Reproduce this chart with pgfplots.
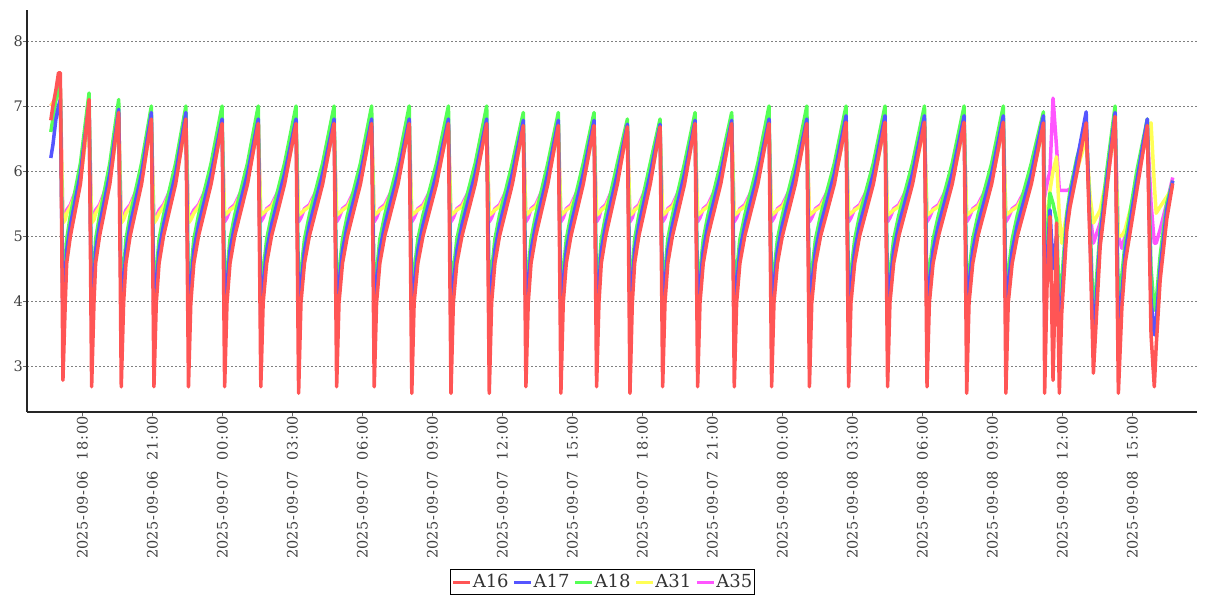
\documentclass[border=0pt]{standalone}
\usepackage{fontspec}
\setmainfont{DejaVu Serif}
\usepackage{pgfplots}
\usepackage{pgfplotstable}
\pgfplotsset{compat=1.18}

\definecolor{cA16}{HTML}{FF5555}
\definecolor{cA17}{HTML}{5555FF}
\definecolor{cA18}{HTML}{55FF55}
\definecolor{cA31}{HTML}{FFFF55}
\definecolor{cA35}{HTML}{FF55FF}

% t = hours since 2025-09-06 00:00
\pgfplotstableread{
t A16 A17 A18 A31 A35
16.65 6.78 6.20 6.60 7.00 7.00
16.74 7.00 6.40 6.80 7.05 7.05
16.87 7.25 6.80 7.10 7.10 7.10
16.98 7.51 7.00 7.28 7.20 7.20
17.06 7.51 7.10 7.28 7.20 7.20
17.17 2.78 3.70 4.05 5.20 5.22
17.27 3.97 4.25 4.45 5.25 5.30
17.33 4.58 4.78 4.95 5.35 5.40
17.49 5.00 5.17 5.32 5.45 5.48
17.92 5.80 5.96 6.12 5.85 5.90
18.29 7.10 7.05 7.20 6.90 6.90
18.40 2.68 3.70 4.05 5.20 5.22
18.50 3.97 4.25 4.45 5.25 5.30
18.57 4.58 4.78 4.95 5.35 5.40
18.74 5.00 5.17 5.32 5.45 5.48
19.18 5.80 5.96 6.12 5.85 5.90
19.56 6.90 6.95 7.10 6.80 6.80
19.67 2.68 3.70 4.05 5.20 5.22
19.77 3.97 4.25 4.45 5.25 5.30
19.87 4.58 4.78 4.95 5.35 5.40
20.05 5.00 5.17 5.32 5.45 5.48
20.54 5.80 5.96 6.12 5.85 5.90
20.96 6.80 6.90 7.00 6.75 6.75
21.07 2.68 3.70 4.05 5.20 5.22
21.17 3.97 4.25 4.45 5.25 5.30
21.29 4.58 4.78 4.95 5.35 5.40
21.48 5.00 5.17 5.32 5.45 5.48
22.00 5.80 5.96 6.12 5.85 5.90
22.44 6.80 6.90 7.00 6.75 6.75
22.55 2.68 3.70 4.05 5.20 5.22
22.65 3.97 4.25 4.45 5.25 5.30
22.78 4.58 4.78 4.95 5.35 5.40
22.98 5.00 5.17 5.32 5.45 5.48
23.52 5.80 5.96 6.12 5.85 5.90
23.99 6.73 6.80 7.00 6.70 6.70
24.10 2.68 3.70 4.05 5.32 5.22
24.20 3.97 4.25 4.45 5.35 5.28
24.33 4.58 4.78 4.95 5.40 5.42
24.53 5.00 5.17 5.32 5.45 5.48
25.08 5.80 5.96 6.12 5.85 5.90
25.54 6.73 6.80 7.00 6.70 6.70
25.65 2.68 3.70 4.05 5.32 5.22
25.75 3.97 4.25 4.45 5.35 5.28
25.90 4.58 4.78 4.95 5.40 5.42
26.11 5.00 5.17 5.32 5.45 5.48
26.67 5.80 5.96 6.12 5.85 5.90
27.16 6.73 6.80 7.00 6.70 6.70
27.27 2.58 3.70 4.05 5.32 5.22
27.37 3.97 4.25 4.45 5.35 5.28
27.52 4.58 4.78 4.95 5.40 5.42
27.73 5.00 5.17 5.32 5.45 5.48
28.30 5.80 5.96 6.12 5.85 5.90
28.79 6.73 6.80 7.00 6.70 6.70
28.90 2.68 3.70 4.05 5.32 5.22
29.00 3.97 4.25 4.45 5.35 5.28
29.15 4.58 4.78 4.95 5.40 5.42
29.36 5.00 5.17 5.32 5.45 5.48
29.92 5.80 5.96 6.12 5.85 5.90
30.40 6.73 6.80 7.00 6.70 6.70
30.51 2.68 3.70 4.05 5.32 5.22
30.61 3.97 4.25 4.45 5.35 5.28
30.75 4.58 4.78 4.95 5.40 5.42
30.96 5.00 5.17 5.32 5.45 5.48
31.53 5.80 5.96 6.12 5.85 5.90
32.01 6.73 6.80 7.00 6.70 6.70
32.12 2.58 3.70 4.05 5.32 5.22
32.22 3.97 4.25 4.45 5.35 5.28
32.38 4.58 4.78 4.95 5.40 5.42
32.60 5.00 5.17 5.32 5.45 5.48
33.18 5.80 5.96 6.12 5.85 5.90
33.69 6.73 6.80 7.00 6.70 6.70
33.80 2.58 3.70 4.05 5.32 5.22
33.90 3.97 4.25 4.45 5.35 5.28
34.05 4.58 4.78 4.95 5.40 5.42
34.27 5.00 5.17 5.32 5.45 5.48
34.84 5.80 5.96 6.12 5.85 5.90
35.33 6.73 6.80 7.00 6.70 6.70
35.44 2.58 3.70 4.05 5.32 5.22
35.54 3.97 4.25 4.45 5.35 5.28
35.68 4.58 4.78 4.95 5.40 5.42
35.88 5.00 5.17 5.32 5.45 5.48
36.43 5.80 5.96 6.12 5.85 5.90
36.90 6.70 6.78 6.90 6.65 6.65
37.01 2.68 3.70 4.05 5.32 5.22
37.11 3.97 4.25 4.45 5.35 5.28
37.23 4.58 4.78 4.95 5.40 5.42
37.43 5.00 5.17 5.32 5.45 5.48
37.95 5.80 5.96 6.12 5.85 5.90
38.40 6.70 6.78 6.90 6.65 6.65
38.51 2.58 3.70 4.05 5.32 5.22
38.61 3.97 4.25 4.45 5.35 5.28
38.74 4.58 4.78 4.95 5.40 5.42
38.94 5.00 5.17 5.32 5.45 5.48
39.47 5.80 5.96 6.12 5.85 5.90
39.93 6.70 6.78 6.90 6.65 6.65
40.04 2.68 3.70 4.05 5.32 5.22
40.14 3.97 4.25 4.45 5.35 5.28
40.24 4.58 4.78 4.95 5.40 5.42
40.43 5.00 5.17 5.32 5.45 5.48
40.93 5.80 5.96 6.12 5.85 5.90
41.36 6.68 6.72 6.80 6.65 6.65
41.47 2.58 3.70 4.05 5.32 5.22
41.57 3.97 4.25 4.45 5.35 5.28
41.67 4.58 4.78 4.95 5.40 5.42
41.85 5.00 5.17 5.32 5.45 5.48
42.34 5.80 5.96 6.12 5.85 5.90
42.76 6.68 6.72 6.80 6.65 6.65
42.87 2.68 3.70 4.05 5.32 5.22
42.97 3.97 4.25 4.45 5.35 5.28
43.09 4.58 4.78 4.95 5.40 5.42
43.29 5.00 5.17 5.32 5.45 5.48
43.81 5.80 5.96 6.12 5.85 5.90
44.26 6.73 6.78 6.90 6.70 6.70
44.37 2.68 3.70 4.05 5.32 5.22
44.47 3.97 4.25 4.45 5.35 5.28
44.61 4.58 4.78 4.95 5.40 5.42
44.81 5.00 5.17 5.32 5.45 5.48
45.36 5.80 5.96 6.12 5.85 5.90
45.83 6.73 6.78 6.90 6.70 6.70
45.94 2.68 3.70 4.05 5.32 5.22
46.04 3.97 4.25 4.45 5.35 5.28
46.18 4.58 4.78 4.95 5.40 5.42
46.39 5.00 5.17 5.32 5.45 5.48
46.95 5.80 5.96 6.12 5.85 5.90
47.43 6.73 6.80 7.00 6.70 6.70
47.54 2.68 3.70 4.05 5.32 5.22
47.64 3.97 4.25 4.45 5.35 5.28
47.79 4.58 4.78 4.95 5.40 5.42
48.00 5.00 5.17 5.32 5.45 5.48
48.56 5.80 5.96 6.12 5.85 5.90
49.05 6.73 6.80 7.00 6.70 6.70
49.16 2.68 3.70 4.05 5.32 5.22
49.26 3.97 4.25 4.45 5.35 5.28
49.42 4.58 4.78 4.95 5.40 5.42
49.64 5.00 5.17 5.32 5.45 5.48
50.23 5.80 5.96 6.12 5.85 5.90
50.73 6.75 6.85 7.00 6.70 6.70
50.84 2.68 3.70 4.05 5.32 5.22
50.94 3.97 4.25 4.45 5.35 5.28
51.10 4.58 4.78 4.95 5.40 5.42
51.31 5.00 5.17 5.32 5.45 5.48
51.90 5.80 5.96 6.12 5.85 5.90
52.40 6.75 6.85 7.00 6.70 6.70
52.51 2.68 3.70 4.05 5.32 5.22
52.61 3.97 4.25 4.45 5.35 5.28
52.77 4.58 4.78 4.95 5.40 5.42
52.99 5.00 5.17 5.32 5.45 5.48
53.58 5.80 5.96 6.12 5.85 5.90
54.09 6.75 6.85 7.00 6.70 6.70
54.20 2.68 3.70 4.05 5.32 5.22
54.30 3.97 4.25 4.45 5.35 5.28
54.46 4.58 4.78 4.95 5.40 5.42
54.69 5.00 5.17 5.32 5.45 5.48
55.28 5.80 5.96 6.12 5.85 5.90
55.79 6.75 6.85 7.00 6.70 6.70
55.90 2.58 3.70 4.05 5.32 5.22
56.00 3.97 4.25 4.45 5.35 5.28
56.16 4.58 4.78 4.95 5.40 5.42
56.38 5.00 5.17 5.32 5.45 5.48
56.97 5.80 5.96 6.12 5.85 5.90
57.47 6.75 6.85 7.00 6.70 6.70
57.58 2.58 3.70 4.05 5.32 5.22
57.68 3.97 4.25 4.45 5.35 5.28
57.85 4.58 4.78 4.95 5.40 5.42
58.07 5.00 5.17 5.32 5.45 5.48
58.67 5.80 5.96 6.12 5.85 5.90
59.19 6.74 6.85 6.91 6.70 6.80
59.24 2.58 3.60 4.00 5.30 5.60
59.34 4.20 4.60 5.00 5.25 5.80
59.47 5.30 5.40 5.66 5.70 6.00
59.60 2.78 4.50 5.50 6.00 7.12
59.75 5.20 5.00 5.25 6.22 6.37
59.87 2.58 3.30 3.90 5.30 5.70
59.97 3.80 4.00 4.30 4.89 5.70
60.19 5.09 5.25 5.35 5.35 5.70
60.33 5.45 5.60 5.70 5.60 5.72
60.62 5.97 6.15 6.20 6.00 6.10
61.02 6.74 6.91 6.70 6.50 6.60
61.19 4.80 5.00 5.20 5.60 5.35
61.33 2.89 3.30 3.70 5.20 4.89
61.62 4.84 5.00 5.10 5.40 5.20
61.90 5.70 5.85 6.00 5.90 5.80
62.26 6.84 6.90 7.00 6.60 6.70
62.40 2.58 3.50 3.90 5.00 5.00
62.55 3.90 4.10 4.40 5.00 4.81
62.69 4.58 4.75 4.90 5.10 5.00
63.19 5.70 5.85 6.00 5.80 5.85
63.64 6.70 6.80 6.80 6.70 6.65
63.80 3.48 4.00 4.50 6.74 5.50
63.94 2.68 3.48 3.86 5.80 4.89
64.02 3.30 3.70 4.00 5.35 4.89
64.19 4.32 4.50 4.70 5.45 5.10
64.47 5.25 5.40 5.50 5.60 5.50
64.73 5.81 5.85 5.85 5.75 5.90
}\volt

% date and time of one tick label
\newcommand{\stamp}[2]{2025\kern1bp-\kern1bp09\kern1bp-\kern1bp#1\hspace{11bp}#2\kern1bp:\kern1bp00}

\begin{document}
\begin{tikzpicture}
\begin{axis}[
  scale only axis,
  width=1170bp, height=402bp,
  xmin=15.63, xmax=65.77,
  ymin=2.292, ymax=8.477,
  axis lines*=left,
  axis line style={line width=1.5bp, black!85, -},
  xtick={18,21,...,63},
  xticklabels={
    {\stamp{06}{18}},{\stamp{06}{21}},
    {\stamp{07}{00}},{\stamp{07}{03}},{\stamp{07}{06}},{\stamp{07}{09}},
    {\stamp{07}{12}},{\stamp{07}{15}},{\stamp{07}{18}},{\stamp{07}{21}},
    {\stamp{08}{00}},{\stamp{08}{03}},{\stamp{08}{06}},{\stamp{08}{09}},
    {\stamp{08}{12}},{\stamp{08}{15}}},
  ytick={3,4,5,6,7,8},
  ymajorgrids,
  major grid style={dash pattern=on 2bp off 2bp, black!50, line width=0.8bp},
  tick align=outside,
  major tick length=4bp,
  tick style={black!60, line width=0.8bp},
  ticklabel style={font=\fontsize{14.5bp}{17bp}\selectfont, text=black!75},
  /pgf/number format/assume math mode=true,
  xticklabel style={rotate=90, anchor=east, inner sep=0pt},
  yticklabel style={anchor=east, inner sep=0pt},
  legend columns=5,
  legend style={at={(0.4919,-0.4229)}, anchor=center, draw=black,
    line width=1bp, text=black!80,
    font=\fontsize{18bp}{21bp}\selectfont,
    inner xsep=1bp, inner ysep=4bp,
    nodes={inner sep=1bp},
    /tikz/every even column/.append style={column sep=3bp}},
  legend image code/.code={\draw[#1] (0bp,0bp) -- (17bp,0bp);},
]
\addlegendimage{cA16, line width=3bp}
\addlegendentry{A16}
\addlegendimage{cA17, line width=3bp}
\addlegendentry{A17}
\addlegendimage{cA18, line width=3bp}
\addlegendentry{A18}
\addlegendimage{cA31, line width=3bp}
\addlegendentry{A31}
\addlegendimage{cA35, line width=3bp}
\addlegendentry{A35}

\addplot[cA35, line width=3.5bp, line join=round, forget plot] table[x=t, y=A35] {\volt};
\addplot[cA31, line width=3.5bp, line join=round, forget plot] table[x=t, y=A31] {\volt};
\addplot[cA18, line width=3.5bp, line join=round, forget plot] table[x=t, y=A18] {\volt};
\addplot[cA17, line width=3.5bp, line join=round, forget plot] table[x=t, y=A17] {\volt};
\addplot[cA16, line width=3.5bp, line join=round, forget plot] table[x=t, y=A16] {\volt};
\end{axis}
\pgfresetboundingbox
\path[use as bounding box] (current axis.south west) ++(-27bp,-188bp) rectangle ++(1207bp,600bp);
\end{tikzpicture}
\end{document}
